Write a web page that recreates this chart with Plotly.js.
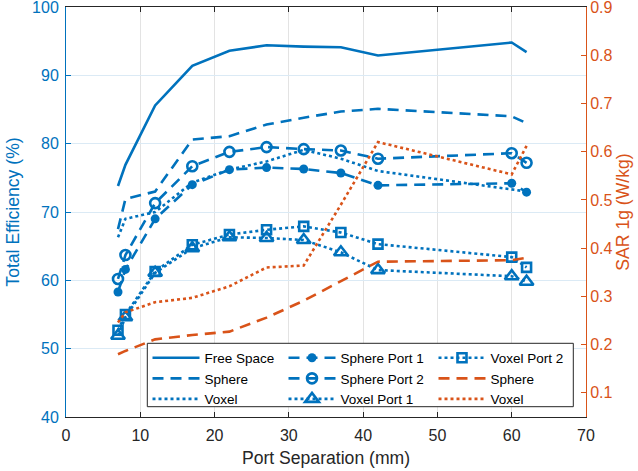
<!DOCTYPE html>
<html>
<head>
<meta charset="utf-8">
<script src="https://cdn.plot.ly/plotly-3.0.1.min.js"></script>
<style>
  html, body { margin: 0; padding: 0; background: #ffffff; }
  #chart { width: 638px; height: 471px; }
</style>
</head>
<body>
<div id="chart"></div>
<script>
// Port separation (mm)
const portSeparation = [7, 8, 12, 17, 22, 27, 32, 37, 42, 60, 62];

// Total efficiency (%) - left axis
const effFreeSpace   = [73.8, 76.9, 85.6, 91.4, 93.6, 94.4, 94.2, 94.1, 92.9, 94.8, 93.4];
const effSphere      = [67.5, 71.9, 73.0, 80.6, 81.1, 82.8, 83.8, 84.7, 85.1, 84.0, 83.0];
const effVoxel       = [66.3, 69.0, 70.0, 74.3, 76.2, 77.4, 79.1, 77.8, 76.0, 73.3, 73.0];
const effSpherePort1 = [58.3, 61.6, 69.0, 74.0, 76.2, 76.5, 76.3, 75.7, 73.9, 74.2, 72.9];
const effSpherePort2 = [60.2, 63.7, 71.3, 76.7, 78.8, 79.5, 79.2, 79.0, 77.8, 78.6, 77.2];
const effVoxelPort1  = [51.9, 54.6, 61.1, 64.7, 66.3, 66.2, 65.9, 64.1, 61.5, 60.6, 59.8];
const effVoxelPort2  = [52.7, 55.0, 61.3, 65.2, 66.7, 67.4, 67.9, 67.0, 65.3, 63.4, 61.9];

// SAR 1g (W/kg) - right axis
const sarSphere = [0.180, 0.187, 0.211, 0.220, 0.227, 0.256, 0.291, 0.332, 0.372, 0.375, 0.380];
const sarVoxel  = [0.246, 0.267, 0.288, 0.297, 0.321, 0.360, 0.364, 0.490, 0.620, 0.553, 0.612];

// Axis ticks
const xTicks  = [0, 10, 20, 30, 40, 50, 60, 70];
const yTicks  = [40, 50, 60, 70, 80, 90, 100];
const y2Ticks = [0.1, 0.2, 0.3, 0.4, 0.5, 0.6, 0.7, 0.8, 0.9];
const y2TickText = ['0.1', '0.2', '0.3', '0.4', '0.5', '0.6', '0.7', '0.8', '0.9'];

const BLUE = '#0072BD';
const ORANGE = '#D95319';
const DARK = '#262626';
const LW = 2.6;
const DASH = '11px,7px';
const DOT = '3px,3px';
const FONT = '"Liberation Sans", Arial, Helvetica, sans-serif';

// plot area in pixels
const PL = 66, PR = 586, PT = 7, PB = 417;
const px2x = p => (p - PL) / (PR - PL);
const px2y = p => (PB - p) / (PB - PT);

function tr(name, y, color, dash, legend, axis, marker) {
  const t = {
    x: portSeparation, y: y, name: name, type: 'scatter',
    mode: marker ? 'lines+markers' : 'lines',
    line: { color: color, width: LW, dash: dash },
    legend: legend, yaxis: axis, hoverinfo: 'x+y+name'
  };
  if (marker) t.marker = marker;
  return t;
}

const traces = [
  tr('Free Space', effFreeSpace, BLUE, 'solid', 'legend', 'y'),
  tr('Sphere', effSphere, BLUE, DASH, 'legend', 'y'),
  tr('Voxel', effVoxel, BLUE, DOT, 'legend', 'y'),
  tr('Sphere Port 1', effSpherePort1, BLUE, DASH, 'legend2', 'y',
     { symbol: 'circle', size: 9, color: BLUE, line: { width: 0 } }),
  tr('Sphere Port 2', effSpherePort2, BLUE, DASH, 'legend2', 'y',
     { symbol: 'circle-open', size: 10, color: BLUE, line: { width: 2.6, color: BLUE } }),
  tr('Voxel Port 1', effVoxelPort1, BLUE, DOT, 'legend2', 'y',
     { symbol: 'triangle-up-open', size: 12, color: BLUE, line: { width: 2.6, color: BLUE } }),
  tr('Voxel Port 2', effVoxelPort2, BLUE, DOT, 'legend3', 'y',
     { symbol: 'square-open', size: 9, color: BLUE, line: { width: 2.6, color: BLUE } }),
  tr('Sphere', sarSphere, ORANGE, DASH, 'legend3', 'y2'),
  tr('Voxel', sarVoxel, ORANGE, DOT, 'legend3', 'y2')
];

function legendAt(xPx, yPx) {
  return {
    xref: 'paper', yref: 'paper',
    x: px2x(xPx), y: px2y(yPx), xanchor: 'left', yanchor: 'top',
    orientation: 'v', bgcolor: 'rgba(0,0,0,0)', borderwidth: 0,
    itemwidth: 47, tracegroupgap: 0,
    font: { family: FONT, size: 13.5, color: '#000000' }
  };
}

const layout = {
  width: 638, height: 471,
  margin: { l: PL, r: 638 - PR, t: PT, b: 471 - PB, pad: 0, autoexpand: false },
  paper_bgcolor: '#ffffff', plot_bgcolor: '#ffffff',
  font: { family: FONT, size: 16, color: DARK },
  showlegend: true,
  xaxis: {
    range: [0, 70], tickvals: xTicks, ticks: 'inside', ticklen: 5, tickcolor: DARK,
    showline: true, linecolor: DARK, linewidth: 1, mirror: 'ticks',
    showgrid: true, gridcolor: '#e3e3e3', gridwidth: 1, zeroline: false,
    ticklabelstandoff: 4, ticklabeloverflow: 'allow',
    tickfont: { family: FONT, size: 16, color: DARK },
    title: { text: 'Port Separation (mm)', font: { family: FONT, size: 17.6, color: DARK }, standoff: 8 }
  },
  yaxis: {
    range: [40, 100], tickvals: yTicks, ticks: 'inside', ticklen: 5, tickcolor: BLUE,
    showline: true, linecolor: BLUE, linewidth: 1,
    showgrid: true, gridcolor: '#dbeaf5', gridwidth: 1, zeroline: false,
    ticklabelstandoff: 3, ticklabeloverflow: 'allow',
    tickfont: { family: FONT, size: 16, color: BLUE },
    title: { text: 'Total Efficiency (%)', font: { family: FONT, size: 17.6, color: BLUE }, standoff: 7 }
  },
  yaxis2: {
    overlaying: 'y', side: 'right',
    range: [0.05, 0.9], tickvals: y2Ticks, ticktext: y2TickText,
    ticks: 'inside', ticklen: 5, tickcolor: ORANGE,
    showline: true, linecolor: ORANGE, linewidth: 1,
    showgrid: false, zeroline: false,
    ticklabeloverflow: 'allow',
    tickfont: { family: FONT, size: 16, color: ORANGE },
    title: { text: 'SAR 1g (W/kg)', font: { family: FONT, size: 17.6, color: ORANGE }, standoff: 5 }
  },
  legend: legendAt(147.5, 342.5),
  legend2: legendAt(283.5, 342.5),
  legend3: legendAt(433.5, 342.5),
  shapes: [{
    type: 'rect', xref: 'paper', yref: 'paper', layer: 'above',
    x0: px2x(147.3), x1: px2x(573.3),
    y0: px2y(406.7), y1: px2y(343.3),
    line: { color: '#262626', width: 1 }, fillcolor: '#ffffff'
  }]
};

Plotly.newPlot('chart', traces, layout, { displayModeBar: false, staticPlot: true });
</script>
</body>
</html>
